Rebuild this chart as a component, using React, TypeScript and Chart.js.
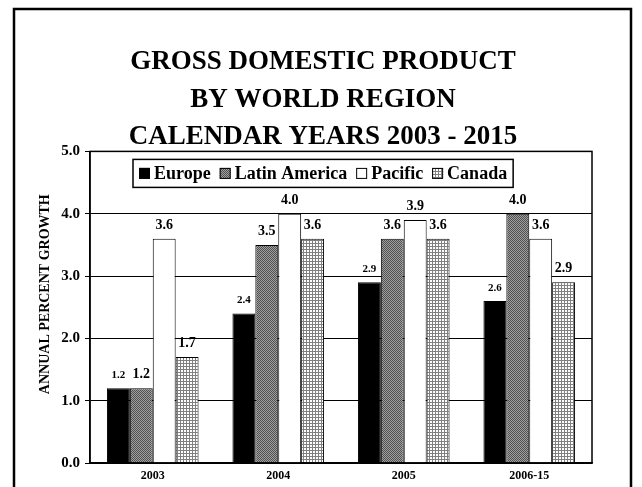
import { useEffect, useRef } from "react";
import { Chart, registerables } from "chart.js";

Chart.register(...registerables);

const categories = ["2003", "2004", "2005", "2006-15"];
const seriesNames = ["Europe", "Latin America", "Pacific", "Canada"];
const europe = [1.2, 2.4, 2.9, 2.6];
const latinAmerica = [1.2, 3.5, 3.6, 4.0];
const pacific = [3.6, 4.0, 3.9, 3.6];
const canada = [1.7, 3.6, 3.6, 2.9];
const yTickValues = [0, 1, 2, 3, 4, 5];
const titleLines = ["GROSS DOMESTIC PRODUCT", "BY WORLD REGION", "CALENDAR YEARS 2003 - 2015"];
const yAxisTitle = "ANNUAL PERCENT GROWTH";

const FONT = "'Liberation Serif', 'Times New Roman', Times, serif";

function makeLatinPattern(): CanvasPattern | string {
  const c = document.createElement("canvas");
  c.width = 2;
  c.height = 2;
  const g = c.getContext("2d");
  if (!g) return "#777";
  g.fillStyle = "#a0a0a0";
  g.fillRect(0, 0, 2, 2);
  g.fillStyle = "#505050";
  g.fillRect(0, 0, 1, 1);
  g.fillRect(1, 1, 1, 1);
  return g.createPattern(c, "repeat") || "#777";
}

function makeCanadaPattern(): CanvasPattern | string {
  const c = document.createElement("canvas");
  c.width = 3;
  c.height = 3;
  const g = c.getContext("2d");
  if (!g) return "#bbb";
  g.fillStyle = "#ffffff";
  g.fillRect(0, 0, 3, 3);
  g.fillStyle = "#808080";
  g.fillRect(0, 0, 3, 1);
  g.fillRect(0, 0, 1, 3);
  return g.createPattern(c, "repeat") || "#bbb";
}

export default function App() {
  const ref = useRef<HTMLCanvasElement>(null);

  useEffect(() => {
    const canvas = ref.current;
    if (!canvas) return;
    const latinPattern = makeLatinPattern();
    const canadaPattern = makeCanadaPattern();
    const fills: any[] = ["#000000", latinPattern, "#ffffff", canadaPattern];
    const values = [europe, latinAmerica, pacific, canada];
    const labelSizes = [11, 14, 14, 14];
    const labelGaps = [10, 10, 10, 10];

    const framePlugin = {
      id: "framePlugin",
      beforeDraw(chart: any) {
        const ctx = chart.ctx;
        ctx.save();
        ctx.fillStyle = "#ffffff";
        ctx.fillRect(0, 0, chart.width, chart.height);
        ctx.strokeStyle = "#000000";
        ctx.lineWidth = 2.5;
        ctx.strokeRect(14, 9, 617, 520);
        ctx.restore();
      },
      afterDraw(chart: any) {
        const ctx = chart.ctx;
        const a = chart.chartArea;
        ctx.save();
        // y-axis title
        ctx.translate(45, (a.top + a.bottom) / 2 - 13);
        ctx.rotate(-Math.PI / 2);
        ctx.fillStyle = "#000000";
        ctx.font = `bold 14px ${FONT}`;
        ctx.textAlign = "center";
        ctx.textBaseline = "middle";
        ctx.fillText(yAxisTitle, 0, 0);
        ctx.restore();
      },
      afterDatasetsDraw(chart: any) {
        const ctx = chart.ctx;
        const a = chart.chartArea;
        ctx.save();
        ctx.strokeStyle = "#000000";
        ctx.lineWidth = 1.5;
        ctx.strokeRect(a.left, a.top, a.right - a.left, a.bottom - a.top);
        // data labels
        ctx.fillStyle = "#000000";
        ctx.textAlign = "center";
        ctx.textBaseline = "alphabetic";
        chart.data.datasets.forEach((ds: any, i: number) => {
          const meta = chart.getDatasetMeta(i);
          ctx.font = `bold ${labelSizes[i]}px ${FONT}`;
          meta.data.forEach((bar: any, j: number) => {
            const v = ds.data[j] as number;
            ctx.fillText(v.toFixed(1), bar.x, bar.y - labelGaps[i]);
          });
        });
        // legend box
        const fontSize = 18;
        ctx.font = `bold ${fontSize}px ${FONT}`;
        const padX = 6;
        const sq = 11;
        const sqGap = 4;
        const itemGap = 9;
        const widths = chart.data.datasets.map((d: any) => ctx.measureText(d.label).width);
        let total = padX * 2;
        widths.forEach((w: number, i: number) => {
          total += sq + sqGap + w + (i > 0 ? itemGap : 0);
        });
        const boxL = a.left + 43;
        const boxT = a.top + 8;
        const boxH = 28;
        ctx.fillStyle = "#ffffff";
        ctx.fillRect(boxL, boxT, total, boxH);
        ctx.lineWidth = 1.5;
        ctx.strokeStyle = "#000000";
        ctx.strokeRect(boxL, boxT, total, boxH);
        let x = boxL + padX;
        const cy = boxT + boxH / 2;
        ctx.textAlign = "left";
        ctx.textBaseline = "middle";
        chart.data.datasets.forEach((d: any, i: number) => {
          ctx.fillStyle = d.backgroundColor;
          ctx.fillRect(x, cy - sq / 2, sq, sq);
          ctx.lineWidth = 1;
          ctx.strokeStyle = "#000000";
          ctx.strokeRect(x + 0.5, cy - sq / 2 + 0.5, sq - 1, sq - 1);
          x += sq + sqGap;
          ctx.fillStyle = "#000000";
          ctx.fillText(d.label, x, cy + 1);
          x += widths[i] + itemGap;
        });
        ctx.restore();
      },
    };

    const chart = new Chart(canvas, {
      type: "bar",
      data: {
        labels: categories,
        datasets: seriesNames.map((name, i) => ({
          label: name,
          data: values[i],
          backgroundColor: fills[i],
          borderColor: "#000000",
          borderWidth: 1,
          barPercentage: 1,
          categoryPercentage: 0.73,
          yAxisID: "y",
        })),
      },
      options: {
        responsive: false,
        animation: false,
        devicePixelRatio: 1,
        layout: { padding: { left: 4, right: 0, top: 0, bottom: 0 } },
        plugins: {
          legend: { display: false },
          tooltip: { enabled: false },
          title: {
            display: true,
            text: titleLines,
            color: "#000000",
            font: { family: FONT, size: 27, weight: "bold", lineHeight: 1.4 },
            padding: { top: 43, bottom: -5 },
          },
        },
        scales: {
          x: {
            grid: { display: false, drawTicks: false },
            border: { display: true, color: "#000000", width: 1.5 },
            ticks: {
              color: "#000000",
              font: { family: FONT, size: 12, weight: "bold" },
              padding: 6,
            },
            afterFit(scale: any) {
              scale.height = 24;
            },
          },
          y: {
            min: 0,
            max: 5,
            afterBuildTicks(scale: any) {
              scale.ticks = yTickValues.map((v) => ({ value: v }));
            },
            grid: { color: "#000000", lineWidth: 1, tickLength: 5 },
            border: { display: true, color: "#000000", width: 1.5 },
            ticks: {
              color: "#000000",
              font: { family: FONT, size: 15, weight: "bold" },
              padding: 5,
              callback: (v: any) => Number(v).toFixed(1),
            },
            title: { display: false, text: yAxisTitle },
            afterFit(scale: any) {
              scale.width = 86;
            },
          },
          yRightSpacer: {
            type: "linear",
            position: "right",
            display: true,
            grid: { display: false, drawTicks: false },
            border: { display: false },
            ticks: { display: false },
            afterFit(scale: any) {
              scale.width = 50;
            },
          },
        },
      },
      plugins: [framePlugin],
    });

    return () => chart.destroy();
  }, []);

  return (
    <div style={{ position: "fixed", left: 0, top: 0, width: 642, height: 487, background: "#fff" }}>
      <canvas ref={ref} width={642} height={487} style={{ display: "block" }} />
    </div>
  );
}
